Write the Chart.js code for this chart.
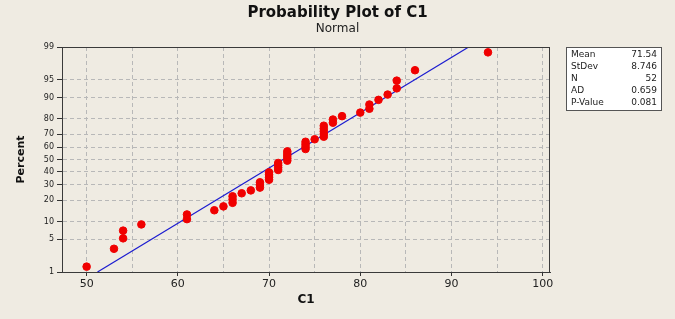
<!DOCTYPE html>
<html>
<head>
<meta charset="utf-8">
<script src="https://cdn.jsdelivr.net/npm/chart.js@4/dist/chart.umd.min.js"></script>
<style>
html, body { margin: 0; padding: 0; background: #efebe2; }
</style>
</head>
<body>
<canvas id="canvas" width="675" height="319"></canvas>
<script>
// sorted observations of C1
var c1Values = [50, 53, 54, 54, 56, 61, 61, 64, 65, 66, 66, 66, 67, 68,
    69, 69, 69, 70, 70, 70, 70, 71, 71, 71, 71, 72, 72, 72, 72, 72,
    74, 74, 74, 74, 75, 76, 76, 76, 76, 76, 77, 77, 78, 80, 81, 81,
    82, 83, 84, 84, 86, 94];
var percentTicks = [1, 5, 10, 20, 30, 40, 50, 60, 70, 80, 90, 95, 99];
var xTicks = [50, 55, 60, 65, 70, 75, 80, 85, 90, 95, 100];
var statLabels = ['Mean', 'StDev', 'N', 'AD', 'P-Value'];
var statValues = ['71.54', '8.746', '52', '0.659', '0.081'];
var mean = 71.54, stdev = 8.746;

// inverse normal cdf (Acklam)
function probit(p) {
    var a = [-39.69683028665376, 220.9460984245205, -275.9285104469687, 138.3577518672690, -30.66479806614716, 2.506628277459239];
    var b = [-54.47609879822406, 161.5858368580409, -155.6989798598866, 66.80131188771972, -13.28068155288572];
    var c = [-0.007784894002430293, -0.3223964580411365, -2.400758277161838, -2.549732539343734, 4.374664141464968, 2.938163982698783];
    var d = [0.007784695709041462, 0.3224671290700398, 2.445134137142996, 3.754408661907416];
    var q, r;
    if (p < 0.02425) {
        q = Math.sqrt(-2 * Math.log(p));
        return (((((c[0]*q+c[1])*q+c[2])*q+c[3])*q+c[4])*q+c[5]) / ((((d[0]*q+d[1])*q+d[2])*q+d[3])*q+1);
    }
    if (p > 1 - 0.02425) {
        q = Math.sqrt(-2 * Math.log(1 - p));
        return -(((((c[0]*q+c[1])*q+c[2])*q+c[3])*q+c[4])*q+c[5]) / ((((d[0]*q+d[1])*q+d[2])*q+d[3])*q+1);
    }
    q = p - 0.5; r = q * q;
    return (((((a[0]*r+a[1])*r+a[2])*r+a[3])*r+a[4])*r+a[5])*q / (((((b[0]*r+b[1])*r+b[2])*r+b[3])*r+b[4])*r+1);
}

// median rank plotting positions
var n = c1Values.length;
var points = c1Values.map(function (v, i) {
    return { x: v, y: probit((i + 1 - 0.3) / (n + 0.4)) };
});
var zMin = probit(0.01), zMax = probit(0.99);
var fitLine = [
    { x: mean + zMin * stdev, y: zMin },
    { x: mean + zMax * stdev, y: zMax }
];

var statBox = {
    id: 'statBox',
    afterDraw: function (chart) {
        var ctx = chart.ctx;
        var a = chart.chartArea;
        ctx.save();
        // plot frame
        ctx.strokeStyle = '#3a3a3a';
        ctx.lineWidth = 1;
        ctx.strokeRect(a.left + 0.5, a.top + 0.5, a.right - a.left - 1, a.bottom - a.top);
        // stats box
        ctx.fillStyle = '#ffffff';
        ctx.fillRect(566, 47, 95, 63);
        ctx.strokeStyle = '#555';
        ctx.strokeRect(566.5, 47.5, 95, 63);
        ctx.fillStyle = '#222';
        ctx.font = '9px "DejaVu Sans"';
        ctx.textBaseline = 'middle';
        for (var i = 0; i < statLabels.length; i++) {
            ctx.textAlign = 'left';
            ctx.fillText(statLabels[i], 571, 55 + i * 12);
            ctx.textAlign = 'right';
            ctx.fillText(statValues[i], 657, 55 + i * 12);
        }
        ctx.restore();
    }
};

window.onload = function () {
    var ctx = document.getElementById('canvas').getContext('2d');
    window.myChart = new Chart(ctx, {
        type: 'scatter',
        data: {
            datasets: [{
                label: 'C1',
                data: points,
                backgroundColor: '#f00000',
                borderColor: '#f00000',
                pointRadius: 3.8,
                pointHoverRadius: 3.8,
            }, {
                label: 'fit',
                type: 'line',
                data: fitLine,
                borderColor: '#1c1cd0',
                borderWidth: 1.2,
                pointRadius: 0,
                fill: false,
            }]
        },
        options: {
            responsive: false,
            animation: false,
            layout: { padding: 0 },
            plugins: {
                legend: { display: false },
                tooltip: { enabled: false },
                title: {
                    display: true,
                    text: 'Probability Plot of C1',
                    color: '#111',
                    font: { family: 'DejaVu Sans', size: 15, weight: 'bold' },
                    padding: { top: 4, bottom: 0 },
                    align: 'center'
                },
                subtitle: {
                    display: true,
                    text: 'Normal',
                    color: '#222',
                    font: { family: 'DejaVu Sans', size: 12 },
                    padding: { top: 0, bottom: 10.6 }
                }
            },
            scales: {
                x: {
                    type: 'linear',
                    min: 47.3,
                    max: 100.8,
                    afterBuildTicks: function (scale) {
                        scale.ticks = xTicks.map(function (v) { return { value: v }; });
                    },
                    afterFit: function (scale) { scale.height = 47; },
                    ticks: {
                        autoSkip: false,
                        maxRotation: 0,
                        padding: 2,
                        color: '#222',
                        font: { family: 'DejaVu Sans', size: 11 },
                        callback: function (v) { return v % 10 === 0 ? v : ''; }
                    },
                    grid: {
                        color: '#b8b8b8',
                        tickLength: 4,
                        tickColor: function (c) { return c.tick && c.tick.value % 10 === 0 ? '#333' : 'rgba(0,0,0,0)'; },
                        tickBorderDash: []
                    },
                    border: { color: '#3a3a3a', dash: [4, 3] },
                    title: {
                        display: true,
                        text: 'C1',
                        color: '#111',
                        font: { family: 'DejaVu Sans', size: 12, weight: 'bold' },
                        padding: { top: 0, bottom: 12 }
                    }
                },
                y: {
                    type: 'linear',
                    min: zMin,
                    max: zMax,
                    afterBuildTicks: function (scale) {
                        scale.ticks = percentTicks.map(function (p) { return { value: probit(p / 100) }; });
                    },
                    afterFit: function (scale) { scale.width = 62; },
                    ticks: {
                        autoSkip: false,
                        padding: 3,
                        color: '#222',
                        font: { family: 'DejaVu Sans', size: 8 },
                        callback: function (v, i) { return percentTicks[i]; }
                    },
                    grid: {
                        color: '#b8b8b8',
                        tickLength: 5,
                        tickColor: '#333',
                        tickBorderDash: []
                    },
                    border: { color: '#3a3a3a', dash: [4, 3] },
                    title: {
                        display: true,
                        text: 'Percent',
                        color: '#111',
                        font: { family: 'DejaVu Sans', size: 11, weight: 'bold' },
                        padding: { top: 15, bottom: 0 }
                    }
                },
                // empty right axis keeps room for the stats box
                yRight: {
                    position: 'right',
                    min: 0,
                    max: 1,
                    afterFit: function (scale) { scale.width = 125; },
                    ticks: { display: false },
                    grid: { display: false, drawTicks: false },
                    border: { display: false }
                }
            }
        },
        plugins: [statBox]
    });
};
</script>
</body>
</html>
